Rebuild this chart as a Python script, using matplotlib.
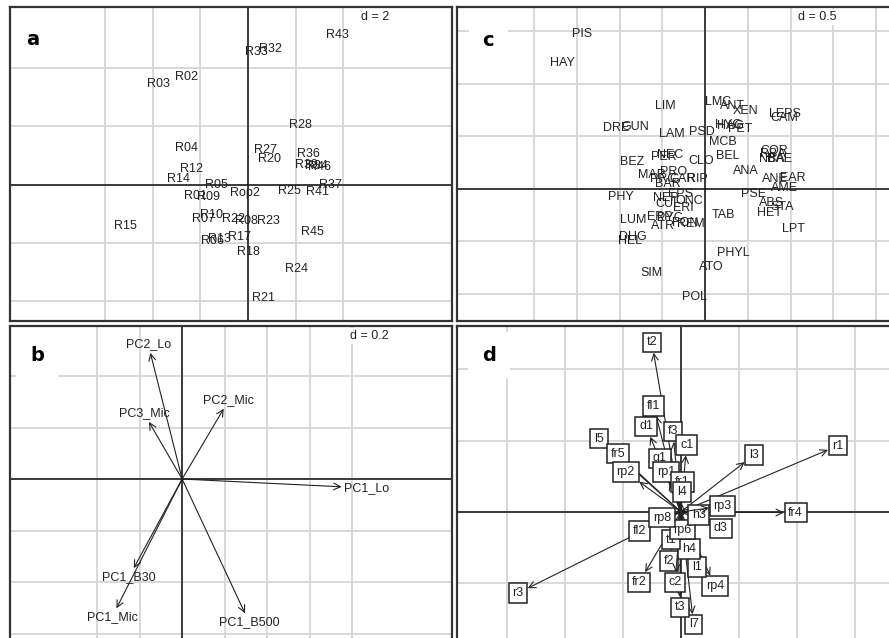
import matplotlib.pyplot as plt
from matplotlib import font_manager

# a narrow sans looks closest to the R device font; use it if present
try:
    font_manager.findfont('Liberation Sans Narrow', fallback_to_default=False)
    narrow = True
except ValueError:
    narrow = False
plt.rcParams['font.family'] = ['Liberation Sans Narrow' if narrow else 'Liberation Sans', 'DejaVu Sans']
LAB = 10 if narrow else 9

# panel a: site scores
site_names = ['R43', 'R33', 'R32', 'R02', 'R03', 'R28', 'R04', 'R27', 'R20', 'R36',
              'R39', 'R34', 'R46', 'R12', 'R14', 'R05', 'R01', 'R09', 'Rop2', 'R25',
              'R41', 'R37', 'R15', 'R07', 'R10', 'R22', 'R08', 'R23', 'R45', 'R06',
              'R13', 'R17', 'R18', 'R24', 'R21']
site_x = [3.73, 0.36, 0.92, -2.57, -3.76, 2.18, -2.60, 0.74, 0.89, 2.53,
          2.45, 2.85, 3.00, -2.39, -2.93, -1.34, -2.22, -1.64, -0.15, 1.73,
          2.90, 3.44, -5.16, -1.88, -1.55, -0.62, -0.08, 0.84, 2.68, -1.51,
          -1.22, -0.34, 0.00, 2.05, 0.63]
site_y = [5.14, 4.56, 4.64, 3.70, 3.47, 2.03, 1.25, 1.20, 0.89, 1.06,
          0.66, 0.62, 0.60, 0.55, 0.20, -0.03, -0.41, -0.44, -0.29, -0.23,
          -0.26, -0.03, -1.43, -1.20, -1.06, -1.20, -1.24, -1.24, -1.64, -1.93,
          -1.86, -1.79, -2.31, -2.90, -3.90]

# panel c: taxa scores
taxa_names = ['PIS', 'HAY', 'LIM', 'LMC', 'ANT', 'XEN', 'LEPS', 'CAM', 'DRE', 'GUN',
              'LAM', 'PSD', 'HYC', 'HAG', 'PET', 'MCB', 'BEL', 'COR', 'RBA', 'NBA',
              'BAE', 'BEZ', 'PER', 'NEC', 'CLO', 'ANA', 'MAR', 'PRO', 'PRC', 'CAR',
              'RIP', 'ANE', 'EAR', 'AME', 'BAR', 'PHY', 'NEP', 'EPS', 'PSE', 'ONC',
              'CUL', 'ERI', 'ABS', 'STA', 'HET', 'TAB', 'LUM', 'ERP', 'PYC', 'ATR',
              'FON', 'REM', 'LPT', 'DHG', 'HEL', 'PHYL', 'ATO', 'SIM', 'POL']
taxa_x = [-1.44, -1.67, -0.47, 0.15, 0.32, 0.47, 0.93, 0.93, -1.04, -0.82,
          -0.39, -0.04, 0.27, 0.30, 0.41, 0.21, 0.27, 0.81, 0.79, 0.78,
          0.87, -0.85, -0.48, -0.41, -0.05, 0.48, -0.62, -0.37, -0.49, -0.26,
          -0.09, 0.82, 1.03, 0.93, -0.43, -0.98, -0.46, -0.29, 0.57, -0.19,
          -0.44, -0.26, 0.78, 0.90, 0.75, 0.21, -0.84, -0.53, -0.41, -0.49,
          -0.23, -0.17, 1.03, -0.85, -0.88, 0.33, 0.07, -0.63, -0.12]
taxa_y = [1.47, 1.20, 0.79, 0.83, 0.79, 0.74, 0.71, 0.67, 0.58, 0.59,
          0.52, 0.54, 0.61, 0.60, 0.57, 0.44, 0.31, 0.36, 0.33, 0.28,
          0.28, 0.25, 0.30, 0.32, 0.26, 0.17, 0.13, 0.16, 0.09, 0.09,
          0.09, 0.09, 0.10, 0.01, 0.04, -0.08, -0.09, -0.05, -0.05, -0.12,
          -0.15, -0.18, -0.14, -0.17, -0.23, -0.25, -0.30, -0.27, -0.28, -0.36,
          -0.33, -0.34, -0.38, -0.46, -0.50, -0.61, -0.75, -0.80, -1.03]

# panel b: environmental PCs
env_names = ['PC2_Lo', 'PC2_Mic', 'PC3_Mic', 'PC1_Lo', 'PC1_B30', 'PC1_Mic', 'PC1_B500']
env_x = [-0.16, 0.22, -0.18, 0.87, -0.25, -0.33, 0.315]
env_y = [0.524, 0.307, 0.256, -0.035, -0.38, -0.536, -0.555]

# panel d: traits
trait_names = ['t2', 'fl1', 'd1', 'f3', 'c1', 'l5', 'fr5', 'g1', 'rp2', 'rp1',
               'fr1', 'l4', 'l3', 'r1', 'fr4', 'r3', 'fr2', 'rp4', 'l7', 't3',
               'l1', 'f2', 'c2', 'h4', 't1', 'rp6', 'fl2', 'd3', 'h3', 'rp3', 'rp8']
trait_x = [-0.50, -0.47, -0.60, -0.14, 0.10, -1.41, -1.09, -0.36, -0.95, -0.26,
           0.03, 0.02, 1.26, 2.71, 1.98, -2.81, -0.72, 0.59, 0.22, -0.02,
           0.28, -0.21, -0.10, 0.14, -0.17, 0.03, -0.71, 0.69, 0.31, 0.72, -0.33]
trait_y = [2.38, 1.49, 1.20, 1.13, 0.94, 1.03, 0.82, 0.75, 0.56, 0.56,
           0.42, 0.28, 0.80, 0.93, -0.01, -1.14, -0.99, -1.04, -1.58, -1.34,
           -0.77, -0.69, -0.99, -0.52, -0.39, -0.25, -0.27, -0.23, -0.04, 0.08, -0.08]

W, H = 889, 638
fig = plt.figure(figsize=(W / 100, H / 100), dpi=100)


def px_axes(l, t, r, b):
    return fig.add_axes([l / W, 1 - b / H, (r - l) / W, (b - t) / H])


def setup(ax, xlim, ylim, xg, yg, letter, lpos, dtext, dpos, hide):
    ax.set_xlim(xlim)
    ax.set_ylim(ylim)
    ax.set_xticks(xg)
    ax.set_yticks(yg)
    ax.tick_params(length=0, labelbottom=False, labelleft=False)
    ax.grid(color='#d6d6d6', lw=1.3)
    ax.set_axisbelow(True)
    ax.axhline(0, color='#111111', lw=1.1, zorder=1)
    ax.axvline(0, color='#111111', lw=1.1, zorder=1)
    for name, sp in ax.spines.items():
        sp.set_color('#333333')
        sp.set_linewidth(1.6)
        if name in hide:
            sp.set_visible(False)
    ax.text(lpos[0], lpos[1], letter, transform=ax.transAxes, ha='center', va='center',
            fontsize=14, fontweight='bold', family='DejaVu Sans', zorder=5,
            bbox=dict(boxstyle='square,pad=0.7', fc='white', ec='none'))
    if dtext:
        ax.text(dpos[0], dpos[1], dtext, transform=ax.transAxes, ha='center', va='center',
                fontsize=LAB, color='#222222', zorder=5,
                bbox=dict(boxstyle='square,pad=0.15', fc='white', ec='none'))


# a
ax = px_axes(10, 7, 452, 321)
setup(ax, (-9.98, 8.55), (-4.69, 6.1), [-6, -4, -2, 0, 2, 4], [-4, -2, 0, 2, 4],
      'a', (0.052, 0.898), 'd = 2', (0.826, 0.968), [])
for n, x, y in zip(site_names, site_x, site_y):
    ax.text(x, y, n, ha='center', va='center', fontsize=LAB, color='#222222')

# c
ax = px_axes(457, 7, 889, 321)
setup(ax, (-2.90, 2.15), (-1.26, 1.73), [-2, -1.5, -1, -0.5, 0, 0.5, 1, 1.5, 2],
      [-1, -0.5, 0, 0.5, 1, 1.5], 'c', (0.072, 0.892), 'd = 0.5', (0.833, 0.968), ['right'])
for n, x, y in zip(taxa_names, taxa_x, taxa_y):
    ax.text(x, y, n, ha='center', va='center', fontsize=LAB, color='#222222')

# b
ax = px_axes(10, 326, 452, 638)
setup(ax, (-0.81, 1.27), (-0.617, 0.594), [-0.4, -0.2, 0, 0.2, 0.4, 0.6, 0.8],
      [-0.6, -0.4, -0.2, 0, 0.2, 0.4], 'b', (0.061, 0.907), 'd = 0.2', (0.814, 0.968), ['bottom'])
for n, x, y in zip(env_names, env_x, env_y):
    ax.annotate(n, xy=(0, 0), xytext=(x, y), ha='center', va='center', fontsize=LAB,
                color='#222222',
                arrowprops=dict(arrowstyle='<-', color='#222222', lw=0.8,
                                shrinkA=0, shrinkB=0, mutation_scale=12))

# d
ax = px_axes(457, 326, 889, 638)
setup(ax, (-3.86, 3.59), (-1.77, 2.61), [-3, -2, -1, 0, 1, 2, 3], [-1, 0, 1, 2],
      'd', (0.074, 0.907), None, None, ['right', 'bottom'])
for n, x, y in zip(trait_names, trait_x, trait_y):
    ax.annotate(n, xy=(0, 0), xytext=(x, y), ha='center', va='center', fontsize=LAB,
                color='#222222',
                bbox=dict(boxstyle='square,pad=0.3', fc='white', ec='#222222', lw=1.1),
                arrowprops=dict(arrowstyle='<-', color='#222222', lw=0.8,
                                shrinkA=0, shrinkB=0, mutation_scale=12))

fig.savefig('out.png', dpi=100)
